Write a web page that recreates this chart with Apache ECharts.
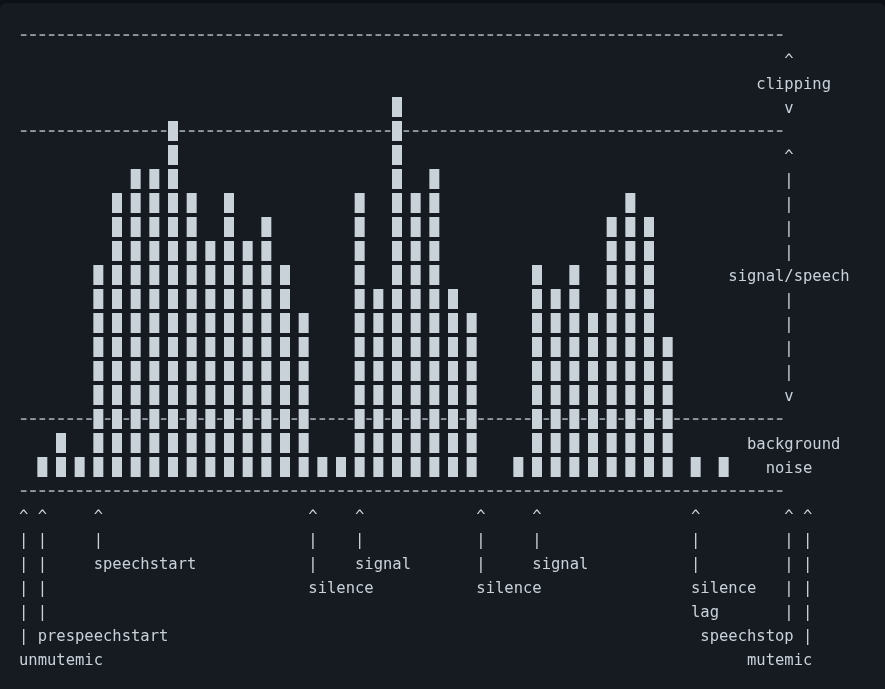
<!DOCTYPE html>
<html>
<head>
<meta charset="utf-8">
<script src="https://cdn.jsdelivr.net/npm/echarts@6/dist/echarts.min.js"></script>
<style>
  html, body { margin: 0; padding: 0; background: #0d1117; }
  #frame { position: absolute; left: 0; top: 3px; width: 885px; height: 686px; background: #161b22; border-radius: 6px 6px 0 0; }
  #chart { position: absolute; left: 0; top: 0; width: 885px; height: 689px; }
</style>
</head>
<body>
<div id="frame"></div>
<div id="chart"></div>
<script>
// Character columns (cells) where each level bar stands, and its height in blocks
const barCells  = [2,4,6,8,10,12,14,16,18,20,22,24,26,28,30,32,34,36,38,40,42,44,46,48,53,55,57,59,61,63,65,67,69,72,75];
const barLevels = [1,2,1,9,12,13,13,15,12,10,12,10,11,9,7,1,1,12,8,16,12,13,8,7,1,9,8,9,7,11,12,11,6,1,1];

// Threshold rows drawn as dashed lines (in block rows; 0 = bottom block row)
const thresholdRows = [18, 14, 2, -1];
const thresholdCells = 82;

// Right-side zone labels: [cell, row]
const zoneLabelPos = [[82,17],[79,16],[82,15],[82,13],[82,12],[82,11],[82,10],[82,9],[76,8],[82,7],[82,6],[82,5],[82,4],[82,3],[78,1],[80,0]];
const zoneLabelText = ['^','clipping','v','^','|','|','|','|','signal/speech','|','|','|','|','v','background','noise'];

// Bottom event annotations: [cell, row, text]
const eventCells = [0,2,8,31,36,49,55,72,82,84];
const eventNotes = [
  [0,-4,'|'],[2,-4,'|'],[8,-4,'speechstart'],[31,-4,'|'],[36,-4,'signal'],[49,-4,'|'],[55,-4,'signal'],[72,-4,'|'],[82,-4,'|'],[84,-4,'|'],
  [0,-5,'|'],[2,-5,'|'],[31,-5,'silence'],[49,-5,'silence'],[72,-5,'silence'],[82,-5,'|'],[84,-5,'|'],
  [0,-6,'|'],[2,-6,'|'],[72,-6,'lag'],[82,-6,'|'],[84,-6,'|'],
  [0,-7,'|'],[2,-7,'prespeechstart'],[73,-7,'speechstop'],[84,-7,'|'],
  [0,-8,'unmutemic'],[78,-8,'mutemic']
];

const FG = '#c9d1d9';
const FONT = '15.5px "DejaVu Sans Mono", monospace';
const categories = [];
for (let i = 0; i < 90; i++) categories.push(String(i));

// Build label list from arrays
const textItems = [];
zoneLabelPos.forEach((p, i) => textItems.push([p[0], p[1], zoneLabelText[i]]));
eventCells.forEach(c => { textItems.push([c, -2, '^']); textItems.push([c, -3, '|']); });
eventNotes.forEach(n => textItems.push(n));

// occupancy lookup
const levelAt = {};
barCells.forEach((c, i) => { levelAt[c] = barLevels[i]; });

const chart = echarts.init(document.getElementById('chart'), null, { renderer: 'canvas' });
chart.setOption({
  backgroundColor: 'transparent',
  animation: false,
  grid: { left: 19, top: 11, width: 840, height: 672 },
  xAxis: { type: 'category', data: categories, boundaryGap: true, show: false },
  yAxis: { type: 'value', min: -9, max: 19, show: false },
  series: [
    {
      type: 'custom',
      name: 'thresholds',
      data: thresholdRows.map(r => [0, r]),
      renderItem: function (params, api) {
        const r = api.value(1);
        const children = [];
        for (let c = 0; c < thresholdCells; c++) {
          if (levelAt[c] !== undefined && levelAt[c] > r && r >= 0) continue;
          const p = api.coord([c, r]);
          children.push({ type: 'rect', shape: { x: p[0] - 2.8, y: p[1] - 0.6, width: 5.6, height: 1.3 }, style: { fill: FG } });
        }
        return { type: 'group', children: children };
      },
      z: 1
    },
    {
      type: 'custom',
      name: 'levels',
      data: barCells.map((c, i) => [c, barLevels[i]]),
      renderItem: function (params, api) {
        const c = api.value(0), h = api.value(1);
        const children = [];
        for (let k = 0; k < h; k++) {
          const p = api.coord([c, k]);
          children.push({ type: 'rect', shape: { x: p[0] - 5, y: p[1] - 10, width: 10, height: 20 }, style: { fill: FG } });
        }
        return { type: 'group', children: children };
      },
      z: 2
    },
    {
      type: 'custom',
      name: 'labels',
      data: textItems.map(t => [t[0], t[1]]),
      renderItem: function (params, api) {
        const t = textItems[params.dataIndex];
        const p = api.coord([api.value(0), api.value(1)]);
        const w = api.size([1, 0])[0];
        return { type: 'text', style: { text: t[2], x: p[0] - w / 2, y: p[1] + 1.5, font: FONT, fill: FG, align: 'left', verticalAlign: 'middle' } };
      },
      z: 3
    }
  ]
});
</script>
</body>
</html>
